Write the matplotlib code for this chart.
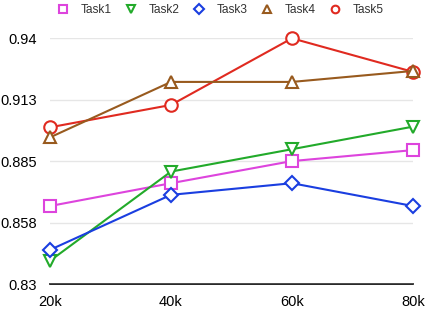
import matplotlib.pyplot as plt
from matplotlib.lines import Line2D

plt.rcParams['font.family'] = ['Liberation Sans', 'DejaVu Sans']

# Data
steps = [20, 40, 60, 80]
step_labels = ['20k', '40k', '60k', '80k']
task1 = [0.865, 0.8752, 0.8851, 0.8900]
task2 = [0.8405, 0.8804, 0.8904, 0.9005]
task3 = [0.8454, 0.8700, 0.8752, 0.8650]
task4 = [0.8957, 0.9205, 0.9205, 0.9254]
task5 = [0.9002, 0.9102, 0.9400, 0.9250]
y_ticks = [0.83, 0.8575, 0.885, 0.9125, 0.94]
y_tick_labels = ['0.83', '0.858', '0.885', '0.913', '0.94']

series = [
    ('Task1', task1, '#dd44dd', 's', 3),
    ('Task2', task2, '#22aa2a', 'v', 3),
    ('Task3', task3, '#1a3ee0', 'D', 3),
    ('Task4', task4, '#985a1e', '^', 5),
    ('Task5', task5, '#e02a20', 'o', 4),
]
marker_sizes = {'s': 8, 'v': 9, 'D': 7.5, '^': 9, 'o': 9}

fig = plt.figure(figsize=(4.26, 3.09), dpi=100)
ax = fig.add_axes([0.1174, 0.08, 0.852, 0.796])

handles = []
for name, vals, color, marker, z in series:
    ax.plot(steps, vals, color=color, linewidth=1.5, marker=marker,
            markersize=marker_sizes[marker], markerfacecolor='white',
            markeredgecolor=color, markeredgewidth=1.5, zorder=z, clip_on=False)
    handles.append(Line2D([], [], linestyle='none', marker=marker, markersize=5.5,
                          markerfacecolor='white', markeredgecolor=color,
                          markeredgewidth=1.5, label=name))

ax.set_xlim(20, 80)
ax.set_ylim(0.83, 0.94)
ax.set_xticks(steps)
ax.set_xticklabels(step_labels)
ax.set_yticks(y_ticks)
ax.set_yticklabels(y_tick_labels)
ax.tick_params(axis='both', length=0, labelsize=10.5, colors='black')
ax.tick_params(axis='y', pad=9.5)
ax.tick_params(axis='x', pad=8)

ax.grid(axis='y', color='#e6e6e6', linewidth=1)
ax.set_axisbelow(True)
for side in ['left', 'right', 'top']:
    ax.spines[side].set_visible(False)
ax.spines['bottom'].set_color('black')
ax.spines['bottom'].set_linewidth(1.2)
ax.spines['bottom'].set_zorder(0.5)

leg = fig.legend(handles=handles, loc='upper center', bbox_to_anchor=(0.517, 1.022),
                 ncol=5, frameon=False, fontsize=8.6, handlelength=1.0,
                 handletextpad=1.0, columnspacing=1.1, labelcolor='#333333')

fig.savefig('out.png', dpi=100)
